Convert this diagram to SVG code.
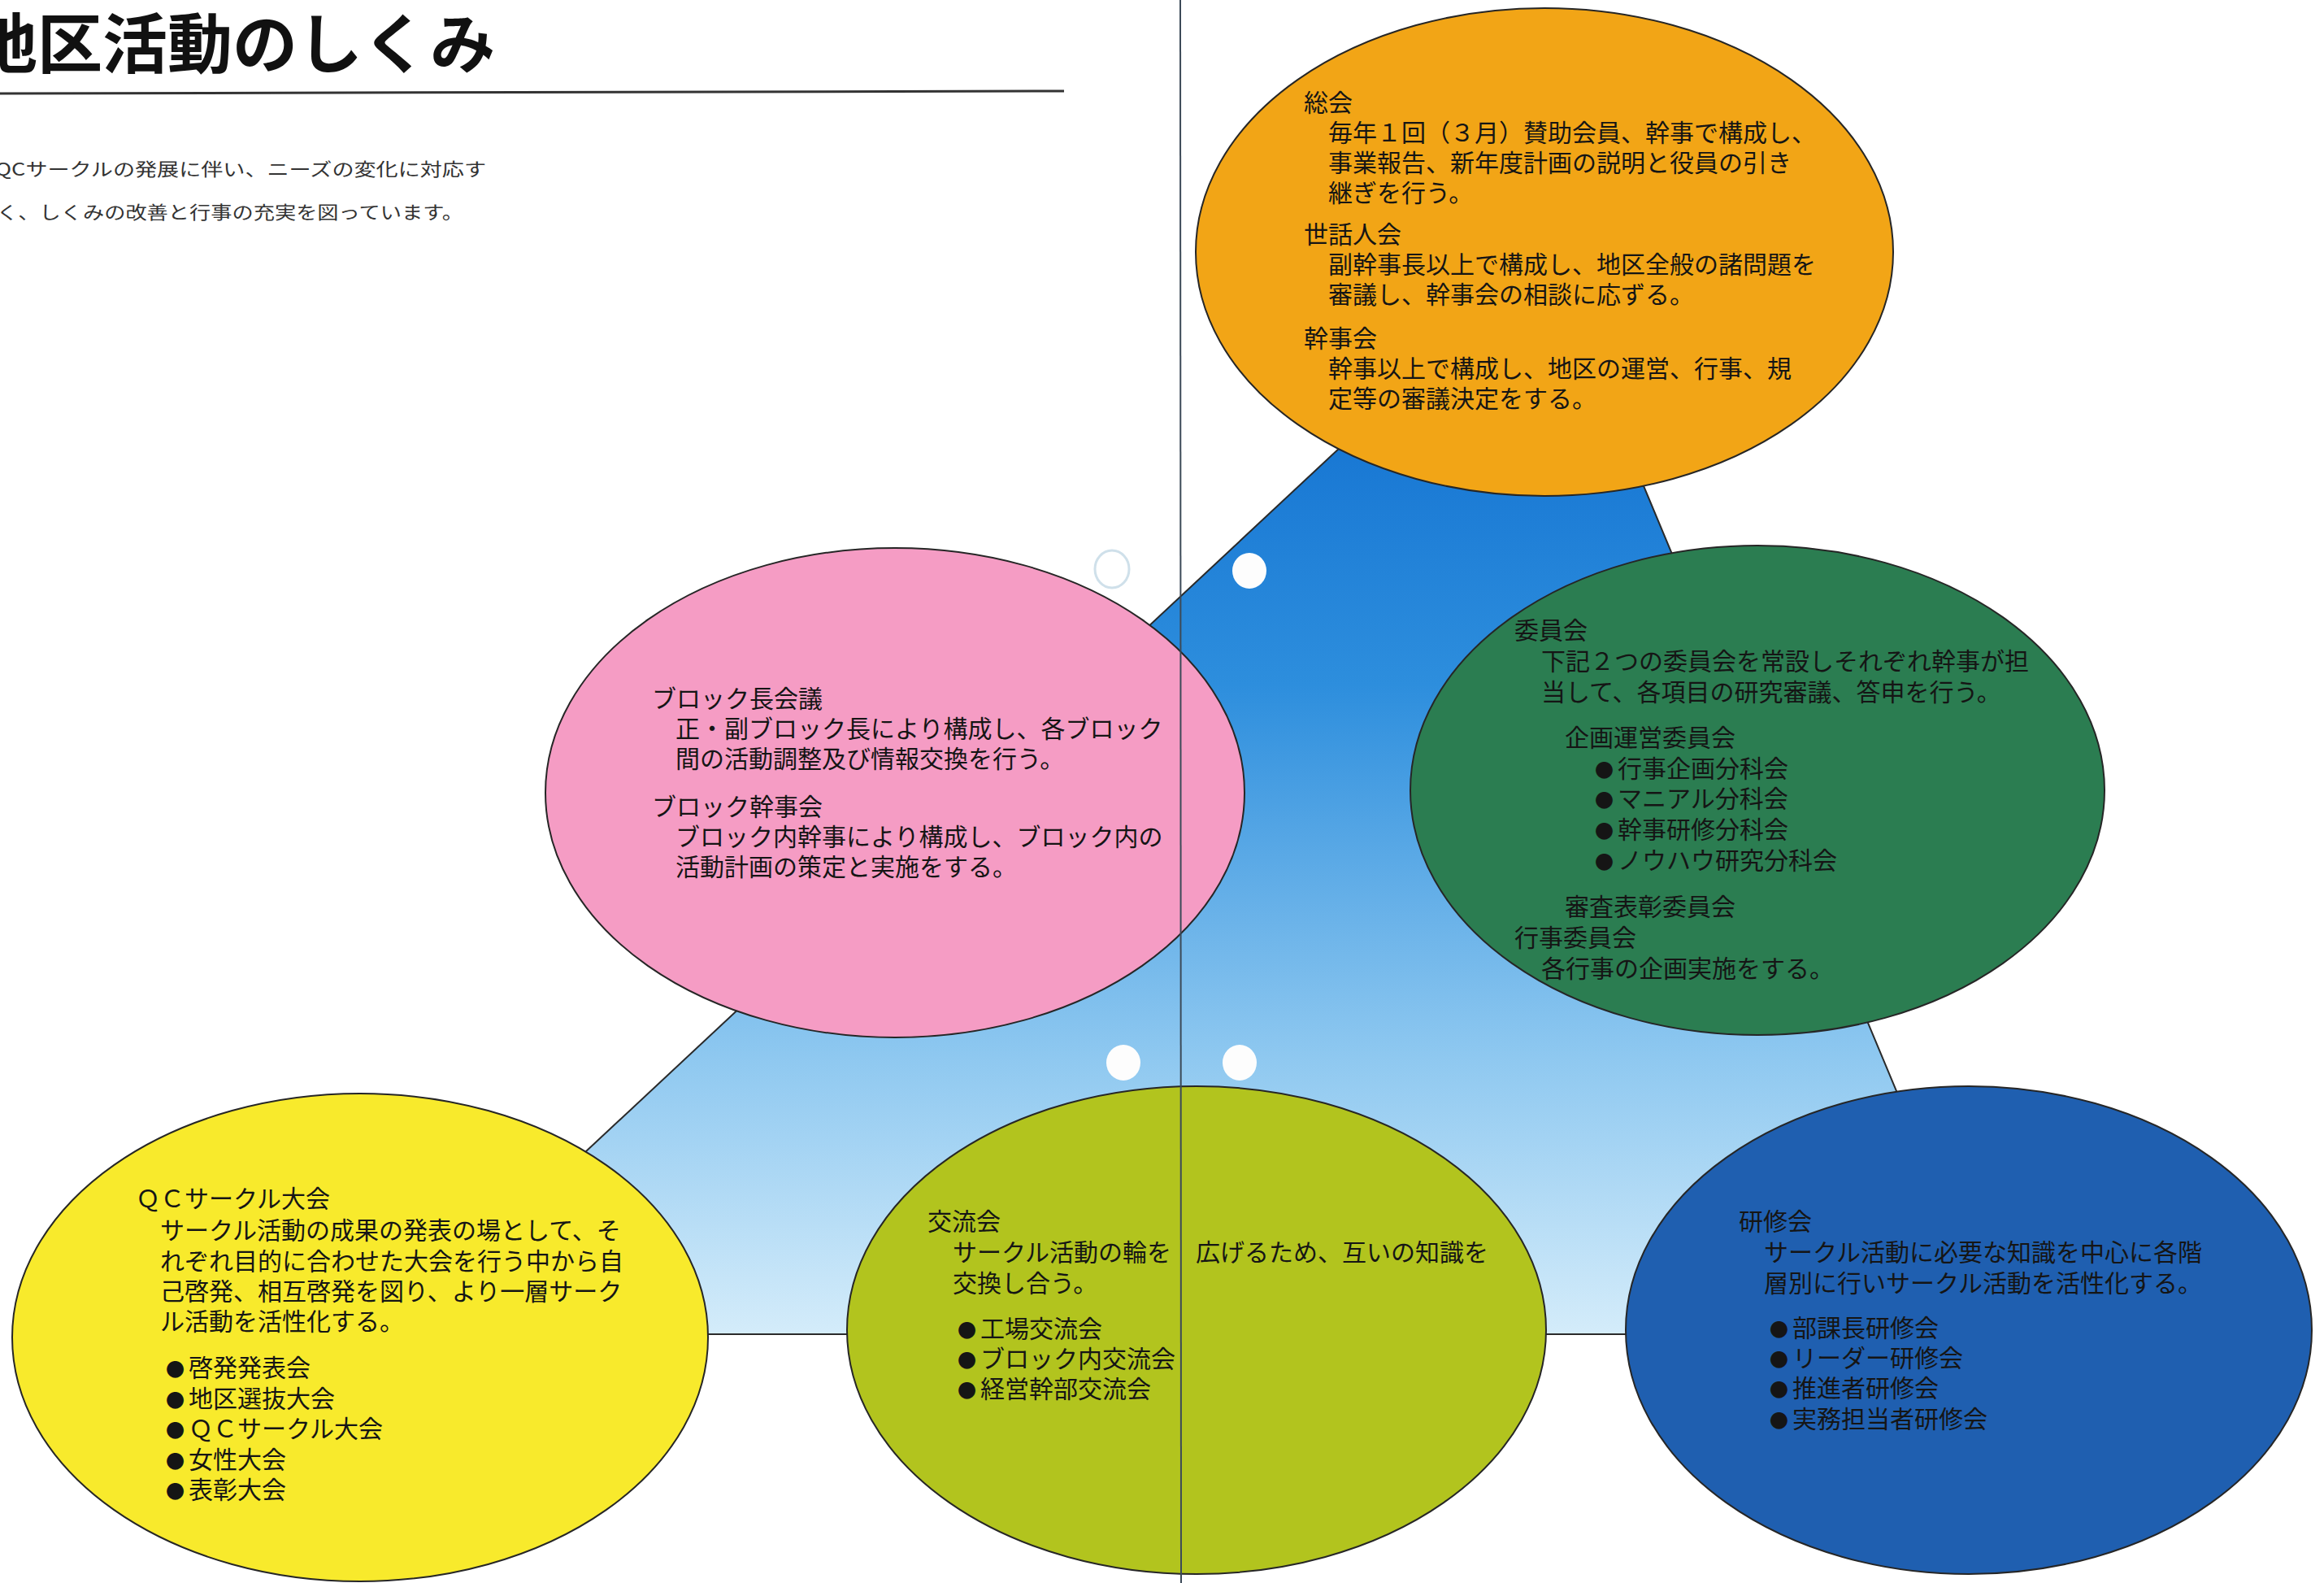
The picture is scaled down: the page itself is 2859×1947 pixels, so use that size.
<svg xmlns="http://www.w3.org/2000/svg" width="2859" height="1947" viewBox="0 0 2859 1947">
<style>
.t{font-family:"Noto Sans CJK JP","Noto Sans CJK SC",sans-serif;font-size:30px;fill:#151515}
.b{font-size:23px}
.sub{font-family:"Noto Sans CJK JP","Noto Sans CJK SC",sans-serif;font-size:22px;fill:#333}
.title{font-family:"Noto Sans CJK JP","Noto Sans CJK SC",sans-serif;font-size:80px;font-weight:700;fill:#111}
.el{stroke:#262626;stroke-width:2}
.hole{fill:#fdfdfd}
</style>
<defs>
<linearGradient id="tri" gradientUnits="userSpaceOnUse" x1="0" y1="500" x2="0" y2="1641">
<stop offset="0" stop-color="#1574d2"/>
<stop offset="0.3" stop-color="#2d8edd"/>
<stop offset="0.7" stop-color="#8ec8f0"/>
<stop offset="1" stop-color="#d4ecfa"/>
</linearGradient>
</defs>
<rect width="2859" height="1947" fill="#ffffff"/>
<g id="header">
<text class="title" x="-34" y="83">地区活動のしくみ</text>
<line x1="0" y1="115" x2="1309" y2="112" stroke="#333" stroke-width="3"/>
<text class="sub" x="-6" y="216" textLength="604" lengthAdjust="spacingAndGlyphs">QCサークルの発展に伴い、ニーズの変化に対応す</text>
<text class="sub" x="-4" y="269" textLength="574" lengthAdjust="spacingAndGlyphs">く、しくみの改善と行事の充実を図っています。</text>
</g>
<g id="connectors">
<polygon points="1903,313 480,1641 2458,1641" fill="url(#tri)" stroke="#2a2a2a" stroke-width="2"/>
<ellipse cx="1368" cy="700" rx="21" ry="23" fill="none" stroke="#cfe0ea" stroke-width="3"/>
<ellipse class="hole" cx="1537" cy="702" rx="21" ry="22"/>
<ellipse class="hole" cx="1382" cy="1307" rx="21" ry="22"/>
<ellipse class="hole" cx="1525" cy="1307" rx="21" ry="22"/>
</g>
<g id="node-soukai">
<ellipse class="el" cx="1900" cy="310" rx="429" ry="300" fill="#f2a516"/>
<text class="t" x="1604" y="137">総会</text>
<text class="t" x="1634" y="174">毎年１回（３月）賛助会員、幹事で構成し、</text>
<text class="t" x="1634" y="211">事業報告、新年度計画の説明と役員の引き</text>
<text class="t" x="1634" y="248">継ぎを行う。</text>
<text class="t" x="1604" y="299">世話人会</text>
<text class="t" x="1634" y="336">副幹事長以上で構成し、地区全般の諸問題を</text>
<text class="t" x="1634" y="373">審議し、幹事会の相談に応ずる。</text>
<text class="t" x="1604" y="427">幹事会</text>
<text class="t" x="1634" y="464">幹事以上で構成し、地区の運営、行事、規</text>
<text class="t" x="1634" y="501">定等の審議決定をする。</text>
</g>
<g id="node-block">
<ellipse class="el" cx="1101" cy="975" rx="430" ry="301" fill="#f59cc4"/>
<text class="t" x="802" y="870">ブロック長会議</text>
<text class="t" x="831" y="907">正・副ブロック長により構成し、各ブロック</text>
<text class="t" x="831" y="944">間の活動調整及び情報交換を行う。</text>
<text class="t" x="802" y="1003">ブロック幹事会</text>
<text class="t" x="831" y="1040">ブロック内幹事により構成し、ブロック内の</text>
<text class="t" x="831" y="1077">活動計画の策定と実施をする。</text>
</g>
<g id="node-iinkai">
<ellipse class="el" cx="2162" cy="972" rx="427" ry="301" fill="#2b7d51"/>
<text class="t" x="1863" y="786">委員会</text>
<text class="t" x="1896" y="824">下記２つの委員会を常設しそれぞれ幹事が担</text>
<text class="t" x="1896" y="862">当して、各項目の研究審議、答申を行う。</text>
<text class="t" x="1925" y="918">企画運営委員会</text>
<text class="t" x="1962" y="956"><tspan class="b">●</tspan><tspan dx="5">行事企画分科会</tspan></text>
<text class="t" x="1962" y="993"><tspan class="b">●</tspan><tspan dx="5">マニアル分科会</tspan></text>
<text class="t" x="1962" y="1031"><tspan class="b">●</tspan><tspan dx="5">幹事研修分科会</tspan></text>
<text class="t" x="1962" y="1069"><tspan class="b">●</tspan><tspan dx="5">ノウハウ研究分科会</tspan></text>
<text class="t" x="1925" y="1126">審査表彰委員会</text>
<text class="t" x="1863" y="1164">行事委員会</text>
<text class="t" x="1896" y="1202">各行事の企画実施をする。</text>
</g>
<g id="node-qc">
<ellipse class="el" cx="443" cy="1645" rx="428" ry="300" fill="#f8ea2c"/>
<text class="t" x="167" y="1485">ＱＣサークル大会</text>
<text class="t" x="197" y="1524">サークル活動の成果の発表の場として、そ</text>
<text class="t" x="197" y="1562">れぞれ目的に合わせた大会を行う中から自</text>
<text class="t" x="197" y="1599">己啓発、相互啓発を図り、より一層サーク</text>
<text class="t" x="197" y="1636">ル活動を活性化する。</text>
<text class="t" x="204" y="1693"><tspan class="b">●</tspan><tspan dx="5">啓発発表会</tspan></text>
<text class="t" x="204" y="1731"><tspan class="b">●</tspan><tspan dx="5">地区選抜大会</tspan></text>
<text class="t" x="204" y="1768"><tspan class="b">●</tspan><tspan dx="5">ＱＣサークル大会</tspan></text>
<text class="t" x="204" y="1806"><tspan class="b">●</tspan><tspan dx="5">女性大会</tspan></text>
<text class="t" x="204" y="1843"><tspan class="b">●</tspan><tspan dx="5">表彰大会</tspan></text>
</g>
<g id="node-kouryu">
<ellipse class="el" cx="1472" cy="1636" rx="430" ry="300" fill="#b2c41e"/>
<text class="t" x="1141" y="1513">交流会</text>
<text class="t" x="1172" y="1551">サークル活動の輪を　広げるため、互いの知識を</text>
<text class="t" x="1172" y="1589">交換し合う。</text>
<text class="t" x="1178" y="1645"><tspan class="b">●</tspan><tspan dx="5">工場交流会</tspan></text>
<text class="t" x="1178" y="1682"><tspan class="b">●</tspan><tspan dx="5">ブロック内交流会</tspan></text>
<text class="t" x="1178" y="1719"><tspan class="b">●</tspan><tspan dx="5">経営幹部交流会</tspan></text>
</g>
<g id="node-kenshu">
<ellipse class="el" cx="2422" cy="1636" rx="422" ry="300" fill="#1f5fb0"/>
<text class="t" x="2139" y="1513">研修会</text>
<text class="t" x="2170" y="1551">サークル活動に必要な知識を中心に各階</text>
<text class="t" x="2170" y="1589">層別に行いサークル活動を活性化する。</text>
<text class="t" x="2177" y="1644"><tspan class="b">●</tspan><tspan dx="5">部課長研修会</tspan></text>
<text class="t" x="2177" y="1681"><tspan class="b">●</tspan><tspan dx="5">リーダー研修会</tspan></text>
<text class="t" x="2177" y="1718"><tspan class="b">●</tspan><tspan dx="5">推進者研修会</tspan></text>
<text class="t" x="2177" y="1756"><tspan class="b">●</tspan><tspan dx="5">実務担当者研修会</tspan></text>
</g>
<line id="fold" x1="1452" y1="0" x2="1453" y2="1947" stroke="#3c4a58" stroke-width="2"/>
</svg>
